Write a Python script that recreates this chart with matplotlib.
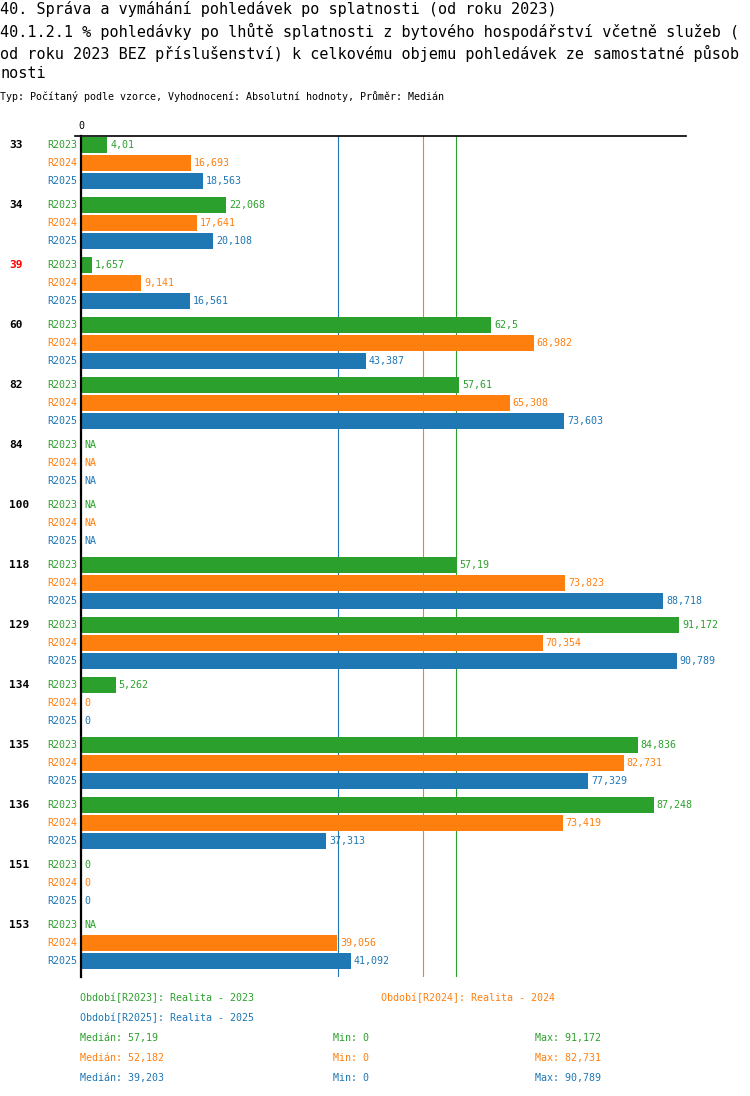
import numpy as np
import matplotlib
matplotlib.use("Agg")
import matplotlib.pyplot as plt
from matplotlib.lines import Line2D

plt.rcParams['font.family'] = ['DejaVu Sans Mono', 'DejaVu Sans']

# data
categories = ["33", "34", "39", "60", "82", "84", "100", "118", "129", "134", "135", "136", "151", "153"]
highlight = ["39"]
series_names = ["R2023", "R2024", "R2025"]
series_titles = ["Realita - 2023", "Realita - 2024", "Realita - 2025"]
nan = np.nan
r2023 = [4.01, 22.068, 1.657, 62.5, 57.61, nan, nan, 57.19, 91.172, 5.262, 84.836, 87.248, 0, nan]
r2024 = [16.693, 17.641, 9.141, 68.982, 65.308, nan, nan, 73.823, 70.354, 0, 82.731, 73.419, 0, 39.056]
r2025 = [18.563, 20.108, 16.561, 43.387, 73.603, nan, nan, 88.718, 90.789, 0, 77.329, 37.313, 0, 41.092]
colors = ["#2ca02c", "#ff7f0e", "#1f77b4"]

title1 = "40. Správa a vymáhání pohledávek po splatnosti (od roku 2023)"
title2 = "40.1.2.1 % pohledávky po lhůtě splatnosti z bytového hospodářství včetně služeb ("
title3 = "od roku 2023 BEZ příslušenství) k celkovému objemu pohledávek ze samostatné působ"
title4 = "nosti"
subtitle = "Typ: Počítaný podle vzorce, Vyhodnocení: Absolutní hodnoty, Průměr: Medián"


def fmt(v):
    if np.isnan(v):
        return "NA"
    # half-up to 3 decimals, comma as decimal sign
    return f"{round(v + 1e-9, 3):g}".replace(".", ",")


W, H = 750, 1096
fig = plt.figure(figsize=(W / 100, H / 100), dpi=100)

# axes placed in pixel terms
left, right, top, bottom = 81, 686, 136, 977
ax = fig.add_axes([left / W, 1 - bottom / H, (right - left) / W, (bottom - top) / H])

all_series = [r2023, r2024, r2025]
group_step = 60
bar_step = 18
bar_h = 16

for j, vals in enumerate(all_series):
    vals = np.array(vals, dtype=float)
    pos = np.arange(len(categories)) * group_step + j * bar_step
    ax.barh(pos, np.nan_to_num(vals), height=bar_h, color=colors[j], zorder=2)
    for p, v in zip(pos, vals):
        x = 0 if np.isnan(v) else v
        ax.annotate(fmt(v), (x, p), xytext=(3, 0), textcoords="offset pixels",
                    ha="left", va="center", fontsize=7.2, color=colors[j])
        ax.annotate(series_names[j], (0, p), xytext=(-4, 0), textcoords="offset pixels",
                    ha="right", va="center", fontsize=7.2, color=colors[j],
                    annotation_clip=False)

for i, cat in enumerate(categories):
    p = i * group_step
    ax.annotate(cat, (0, p), xycoords=("figure pixels", "data"), xytext=(9, 0),
                textcoords="offset pixels", ha="left", va="center", fontsize=8,
                fontweight="bold", color="red" if cat in highlight else "black",
                annotation_clip=False)

medians = [np.nanmedian(np.array(s, dtype=float)) for s in all_series]
mins = [np.nanmin(np.array(s, dtype=float)) for s in all_series]
maxs = [np.nanmax(np.array(s, dtype=float)) for s in all_series]
for m, c in zip(medians, colors):
    ax.axvline(m, color=c, linewidth=0.8, zorder=1)

ax.set_xlim(0, 92.2)
ax.set_ylim((len(categories) - 1) * group_step + 2 * bar_step + 16, -9)
ax.set_xticks([])
ax.set_yticks([])
for s in ["right", "bottom"]:
    ax.spines[s].set_visible(False)
ax.spines["top"].set_linewidth(1.2)
ax.spines["left"].set_linewidth(1.6)
fig.add_artist(Line2D([75 / W, left / W], [1 - top / H, 1 - top / H], color="black", linewidth=1.2))
fig.text(left / W, 1 - 126 / H, "0", ha="center", va="center", fontsize=7.2)

# titles
for txt, y in [(title1, 9), (title2, 31), (title3, 53), (title4, 74)]:
    fig.text(0, 1 - y / H, txt, ha="left", va="center", fontsize=10.9)
fig.text(0, 1 - 96 / H, subtitle, ha="left", va="center", fontsize=7.2)

# legend and stats
fig.text(80 / W, 1 - 998 / H, f"Období[{series_names[0]}]: {series_titles[0]}", color=colors[0], fontsize=7.2, va="center")
fig.text(381 / W, 1 - 998 / H, f"Období[{series_names[1]}]: {series_titles[1]}", color=colors[1], fontsize=7.2, va="center")
fig.text(80 / W, 1 - 1018 / H, f"Období[{series_names[2]}]: {series_titles[2]}", color=colors[2], fontsize=7.2, va="center")
for j in range(3):
    y = 1 - (1038 + j * 20) / H
    fig.text(80 / W, y, f"Medián: {fmt(medians[j])}", color=colors[j], fontsize=7.2, va="center")
    fig.text(333 / W, y, f"Min: {fmt(mins[j])}", color=colors[j], fontsize=7.2, va="center")
    fig.text(535 / W, y, f"Max: {fmt(maxs[j])}", color=colors[j], fontsize=7.2, va="center")

fig.savefig("out.png", dpi=100)
